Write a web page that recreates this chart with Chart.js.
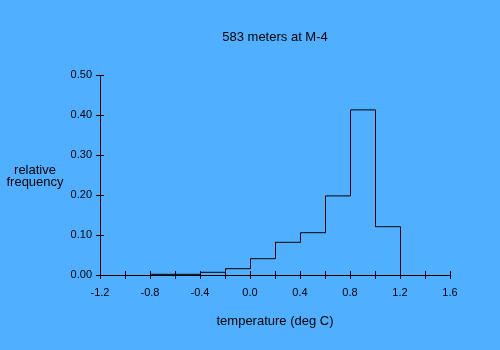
<!DOCTYPE html>
<html>
<head>
<meta charset="utf-8">
<script src="https://cdn.jsdelivr.net/npm/chart.js@4.4.1/dist/chart.umd.min.js"></script>
<style>
    html, body { margin: 0; padding: 0; background: #50b0ff; }
    #wrap { width: 500px; height: 350px; }
</style>
</head>
<body>
<div id="wrap"><canvas id="histChart" width="500" height="350"></canvas></div>
<script>
// bin edges (deg C) and relative frequency of each bin
var binEdges = [-0.8, -0.6, -0.4, -0.2, 0.0, 0.2, 0.4, 0.6, 0.8, 1.0, 1.2];
var frequency = [0.003, 0.003, 0.008, 0.017, 0.042, 0.083, 0.107, 0.199, 0.414, 0.122];

var xTicks = [-1.2, -1.0, -0.8, -0.6, -0.4, -0.2, 0.0, 0.2, 0.4, 0.6, 0.8, 1.0, 1.2, 1.4, 1.6];
var xTickLabels = ['-1.2', '', '-0.8', '', '-0.4', '', '0.0', '', '0.4', '', '0.8', '', '1.2', '', '1.6'];
var yTicks = [0.0, 0.1, 0.2, 0.3, 0.4, 0.5];
var yTickLabels = ['0.00', '0.10', '0.20', '0.30', '0.40', '0.50'];

var chartTitle = '583 meters at M-4';
var xTitle = 'temperature (deg C)';
var yTitle = ['relative', 'frequency'];

var FONT = '"Liberation Sans", Arial, sans-serif';

// outline of the histogram: one point at the right edge of each bin,
// stepped so the level changes at the left edge
var points = [{x: binEdges[0], y: 0}, {x: binEdges[0], y: frequency[0]}];
for (var i = 0; i < frequency.length; i++) {
    points.push({x: binEdges[i + 1], y: frequency[i]});
}
points.push({x: binEdges[binEdges.length - 1], y: 0});

// tick marks that cross the axis lines, plus the free-standing texts
var axisDecor = {
    id: 'axisDecor',
    beforeDatasetsDraw: function (chart) {
        chart.ctx.save();
        chart.ctx.translate(0.5, 0.5);
    },
    afterDatasetsDraw: function (chart) {
        chart.ctx.restore();
    },
    afterDraw: function (chart) {
        var ctx = chart.ctx;
        var xs = chart.scales.x, ys = chart.scales.y;
        var area = chart.chartArea;
        ctx.save();
        ctx.strokeStyle = '#000';
        ctx.lineWidth = 1;
        ctx.beginPath();
        xTicks.forEach(function (v) {
            var px = Math.round(xs.getPixelForValue(v)) + 0.5;
            var py = Math.round(area.bottom);
            ctx.moveTo(px, py - 4);
            ctx.lineTo(px, py + 4);
        });
        yTicks.forEach(function (v) {
            var py = Math.round(ys.getPixelForValue(v)) + 0.5;
            var px = Math.round(area.left);
            ctx.moveTo(px - 4, py);
            ctx.lineTo(px + 4, py);
        });
        ctx.stroke();

        ctx.fillStyle = '#000';
        ctx.font = '13px ' + FONT;
        ctx.textAlign = 'center';
        ctx.textBaseline = 'middle';
        var cx = (area.left + area.right) / 2;
        ctx.fillText(chartTitle, cx, 37);
        ctx.fillText(xTitle, cx, 321);
        ctx.textBaseline = 'alphabetic';
        ctx.fillText(yTitle[0], 35, 174);
        ctx.fillText(yTitle[1], 35, 186);
        ctx.restore();
    }
};

var ctx = document.getElementById('histChart').getContext('2d');
new Chart(ctx, {
    type: 'line',
    data: {
        datasets: [{
            data: points,
            stepped: 'after',
            borderColor: '#000',
            borderWidth: 1,
            pointRadius: 0,
            fill: false,
            clip: false
        }]
    },
    options: {
        responsive: false,
        animation: false,
        layout: {
            padding: {top: 75, right: 50, left: 0, bottom: 0}
        },
        plugins: {
            legend: {display: false},
            title: {display: false},
            tooltip: {enabled: false}
        },
        scales: {
            x: {
                type: 'linear',
                min: -1.2,
                max: 1.6,
                afterFit: function (scale) { scale.height = 75; },
                afterBuildTicks: function (scale) {
                    scale.ticks = xTicks.map(function (v) { return {value: v}; });
                },
                grid: {display: false, drawTicks: false},
                border: {display: true, color: '#000', width: 1},
                ticks: {
                    autoSkip: false,
                    maxRotation: 0,
                    padding: 11,
                    color: '#000',
                    font: {family: FONT, size: 11},
                    callback: function (value, index) { return xTickLabels[index]; }
                }
            },
            y: {
                type: 'linear',
                min: 0,
                max: 0.5,
                afterFit: function (scale) { scale.width = 100; },
                afterBuildTicks: function (scale) {
                    scale.ticks = yTicks.map(function (v) { return {value: v}; });
                },
                grid: {display: false, drawTicks: false},
                border: {display: true, color: '#000', width: 1},
                ticks: {
                    autoSkip: false,
                    padding: 8,
                    color: '#000',
                    font: {family: FONT, size: 11},
                    callback: function (value, index) { return yTickLabels[index]; }
                }
            }
        }
    },
    plugins: [axisDecor]
});
</script>
</body>
</html>
